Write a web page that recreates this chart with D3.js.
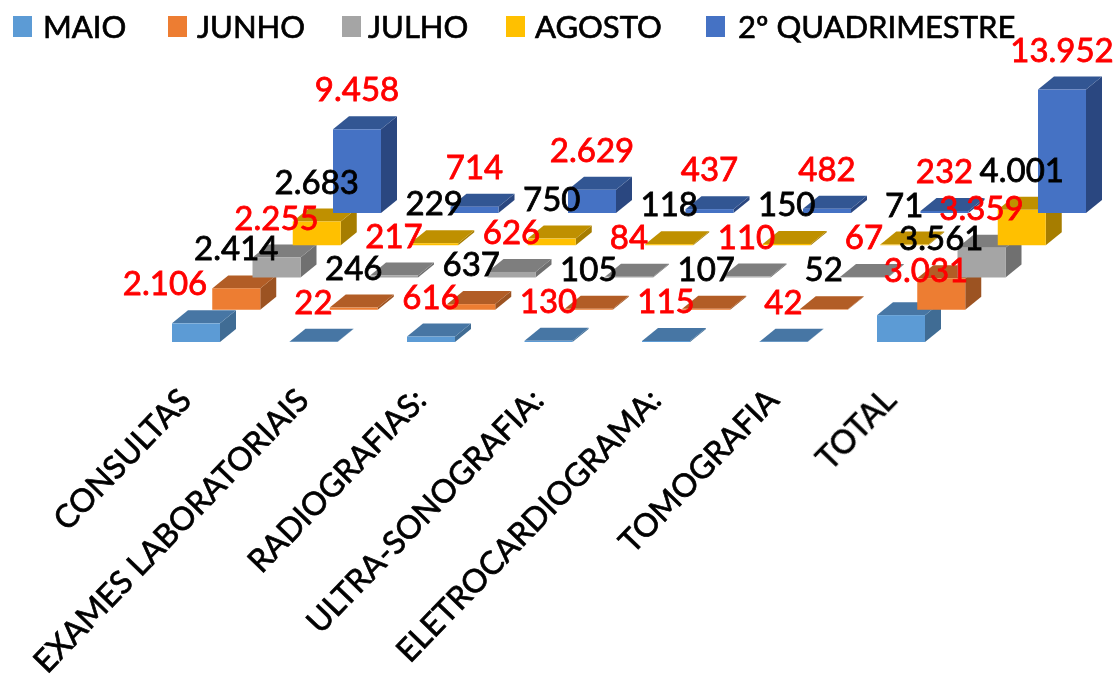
<!DOCTYPE html>
<html><head><meta charset="utf-8">
<script src="https://cdn.jsdelivr.net/npm/d3@7/dist/d3.min.js"></script>
<style>html,body{margin:0;padding:0;background:#fff}svg{display:block}text{font-family:Lato,sans-serif}</style>
</head><body><svg id="c" width="1113" height="678"></svg>
<script>
const categories = ["CONSULTAS","EXAMES LABORATORIAIS","RADIOGRAFIAS:","ULTRA-SONOGRAFIA:","ELETROCARDIOGRAMA:","TOMOGRAFIA","TOTAL"];
const seriesNames = ["MAIO","JUNHO","JULHO","AGOSTO","2º QUADRIMESTRE"];
const maio   = [2106,22,616,130,115,42,3031];
const junho  = [2414,246,637,105,107,52,3561];
const julho  = [2255,217,626,84,110,67,3359];
const agosto = [2683,229,750,118,150,71,4001];
const quad2  = [9458,714,2629,437,482,232,13952];
const allSeries = [maio,junho,julho,agosto,quad2];
const frontColors = ["#5B9BD5","#ED7D31","#A5A5A5","#FFC000","#4472C4"];
const topColors   = ["#4676A4","#B25D25","#7E7E7E","#BF9000","#335693"];
const sideColors  = ["#3F6C94","#9C5220","#6F6F6F","#A67D00","#2B4780"];
const labelColors = ["#FF0000","#000000","#FF0000","#000000","#FF0000"];
const legendX = [13,168,342,506,706];
const legendTextX = [43,197,368,535,738];

const svg = d3.select("#c");
svg.append("defs").append("filter").attr("id","soft")
  .attr("filterUnits","userSpaceOnUse").attr("x",0).attr("y",0).attr("width",1113).attr("height",678)
  .append("feGaussianBlur").attr("stdDeviation",0.55);
const root = svg.append("g").attr("filter","url(#soft)");
const fmt = d3.formatLocale({decimal:",",thousands:".",grouping:[3],currency:["",""]}).format(",d");
const x = d3.scalePoint().domain(categories).range([196,901]);
const depthX = d3.scalePoint().domain(seriesNames).range([0,161]);
const base = d3.scalePoint().domain(seriesNames).range([342,213]);
const h = d3.scaleLinear().domain([0,14000]).range([0,123.9]);
const barW = 48, dX = 16, dY = -13;
const line = d3.line();

seriesNames.forEach((s,si)=>{
  const g = root.append("g").attr("class","series");
  const rows = categories.map((c,i)=>{
    const x0 = x(c)+depthX(s)-barW/2, y0 = base(s), t = y0-h(allSeries[si][i]);
    return {x0,x1:x0+barW,y0,t};
  });
  g.selectAll("path.side").data(rows).join("path").attr("fill",sideColors[si])
    .attr("d",d=>line([[d.x1,d.y0],[d.x1+dX,d.y0+dY],[d.x1+dX,d.t+dY],[d.x1,d.t]])+"Z");
  g.selectAll("path.top").data(rows).join("path").attr("fill",topColors[si])
    .attr("d",d=>line([[d.x0,d.t],[d.x0+dX,d.t+dY],[d.x1+dX,d.t+dY],[d.x1,d.t]])+"Z");
  g.selectAll("rect").data(rows).join("rect").attr("fill",frontColors[si])
    .attr("x",d=>d.x0).attr("y",d=>d.t).attr("width",barW).attr("height",d=>d.y0-d.t);
});

// data labels, two were moved by hand in the original
const nudges = {"MAIO|CONSULTAS":[-31,0],"MAIO|TOTAL":[25,-5]};
seriesNames.forEach((s,si)=>{
  root.append("g").selectAll("text").data(categories).join("text")
    .attr("text-anchor","middle").attr("font-size",33)
    .attr("fill",labelColors[si]).attr("stroke",labelColors[si]).attr("stroke-width",0.8)
    .attr("x",(c)=>x(c)+depthX(s)+((nudges[s+"|"+c]||[0,0])[0]))
    .attr("y",(c,i)=>base(s)-h(allSeries[si][i])-28+((nudges[s+"|"+c]||[0,0])[1]))
    .text((c,i)=>fmt(allSeries[si][i]));
});

// category axis
root.append("g").selectAll("text").data(categories).join("text")
  .attr("text-anchor","end").attr("font-size",32).attr("fill","#000")
  .attr("stroke","#000").attr("stroke-width",0.7)
  .attr("transform",c=>`translate(${x(c)-3},402) rotate(-46)`)
  .text(c=>c);

// legend
const lg = root.append("g").selectAll("g").data(seriesNames).join("g");
lg.append("rect").attr("x",(d,i)=>legendX[i]).attr("y",16).attr("width",19).attr("height",21).attr("fill",(d,i)=>frontColors[i]);
lg.append("text").attr("x",(d,i)=>legendTextX[i]).attr("y",38).attr("font-size",31).attr("fill","#000")
  .attr("stroke","#000").attr("stroke-width",0.7).text(d=>d);
</script></body></html>
